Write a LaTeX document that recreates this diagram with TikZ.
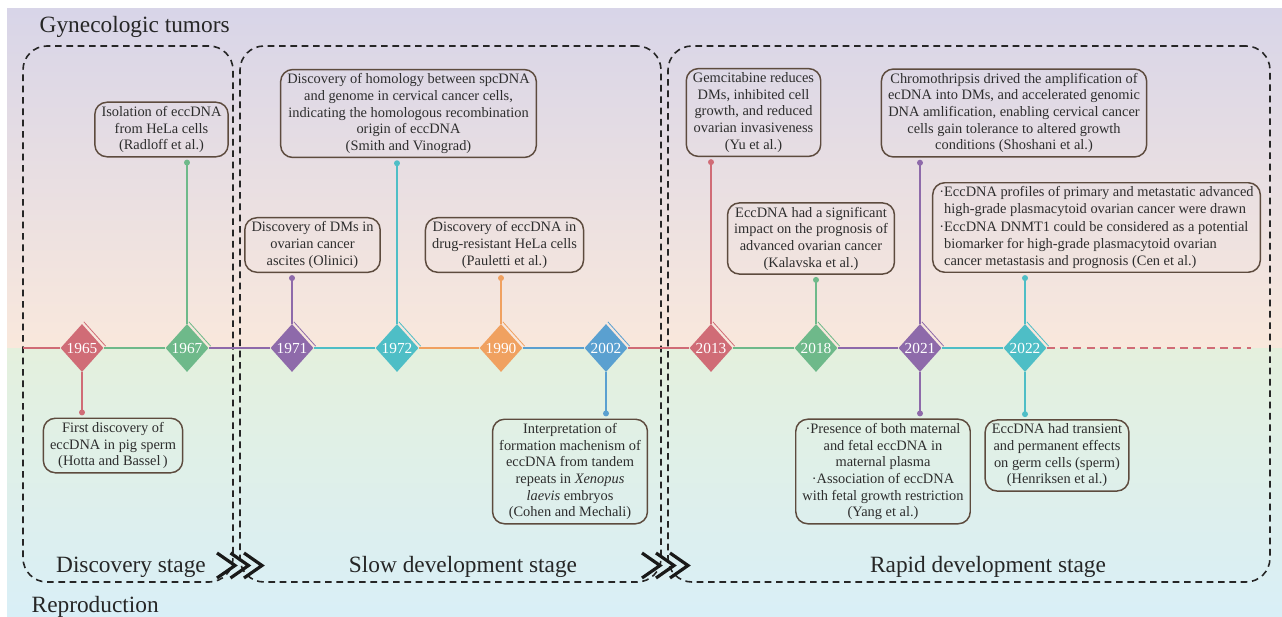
\documentclass[tikz,border=0pt]{standalone}
\usepackage{fontspec}
\setmainfont{Liberation Serif}
\usepackage{tikz}
\usetikzlibrary{arrows.meta,calc,positioning,shapes.geometric}
\definecolor{tlred}{RGB}{208,108,118}
\definecolor{tlgreen}{RGB}{110,185,138}
\definecolor{tlpurple}{RGB}{142,106,170}
\definecolor{tlteal}{RGB}{78,190,198}
\definecolor{tlorange}{RGB}{240,161,96}
\definecolor{tlblue}{RGB}{90,160,208}
\definecolor{boxbrown}{RGB}{93,75,62}
\definecolor{txtgray}{RGB}{45,45,45}
\definecolor{bgtop}{RGB}{216,213,232}
\definecolor{bgmid}{RGB}{249,232,220}
\definecolor{bggreen}{RGB}{228,240,221}
\definecolor{bgblue}{RGB}{217,239,247}

\begin{document}
\begin{tikzpicture}[x=0.75pt, y=-0.75pt, font=\fontsize{10.8}{12.5}\selectfont,
	event/.style={draw=boxbrown, line width=1.1pt, rounded corners=9pt, align=center, text=txtgray, inner xsep=5pt, inner ysep=3pt},
	year/.style={diamond, fill=#1, text=white, inner sep=0pt, minimum width=32.25pt, minimum height=36pt, font=\fontsize{11.5}{13}\selectfont},
	stem/.style={color=#1, line width=1.1pt, {Circle[length=4.4pt]}-, shorten <=1.6pt},
	tl/.style={color=#1, line width=1.6pt},
	stagebox/.style={draw=black!85, line width=1.2pt, dash pattern=on 5pt off 3.5pt, rounded corners=18pt},
	stagelabel/.style={anchor=base, font=\fontsize{17.5}{20}\selectfont, text=black!85},
	chevron/.style={line width=2.4pt, black!90, miter limit=10}]
		\useasboundingbox (0,0) rectangle (1282,617);
		\shade[top color=bgtop, bottom color=bgmid] (7,9) rectangle (1282,348);
		\shade[top color=bggreen, bottom color=bgblue] (7,348) rectangle (1282,617);
		
		\node[anchor=base west, font=\fontsize{17.5}{20}\selectfont, text=black!85] (tumors) at (35,33) {Gynecologic tumors};
		\node[anchor=base west, font=\fontsize{17.5}{20}\selectfont, text=black!85] (repro) at (27,612) {Reproduction};
		
		% stages
		\node[stagebox, minimum width=157.5pt, minimum height=402pt] (discovery) at (128,314) {};
		\node[stagebox, minimum width=315.75pt, minimum height=402pt] (slow) at (450.5,314) {};
		\node[stagebox, minimum width=451.5pt, minimum height=402pt] (rapid) at (969,314) {};
		\node[stagelabel] at (131,572) {Discovery stage};
		\node[stagelabel] at (463,572) {Slow development stage};
		\node[stagelabel] at (988,572) {Rapid development stage};
		\foreach \cx in {217,230.5,244} \draw[chevron] (\cx,553) -- ++(18,12.5) -- ++(-18,12.5);
		\foreach \cx in {642,656,670} \draw[chevron] (\cx,553) -- ++(18,12.5) -- ++(-18,12.5);
		
		% timeline
		\foreach \yr/\xx/\cc in {1965/82/tlred, 1967/187/tlgreen, 1971/292/tlpurple, 1972/397/tlteal, 1990/501/tlorange, 2002/606/tlblue, 2013/711/tlred, 2018/816/tlgreen, 2021/920/tlpurple, 2022/1025/tlteal} {
			\node[year=\cc] (y\yr) at (\xx,348) {\yr};
			\draw[\cc, line width=0.6pt] ([xshift=1.4pt,yshift=1.4pt]y\yr.north) -- ([xshift=1.4pt,yshift=1.4pt]y\yr.east);
		}
		\coordinate (tlstart) at (23,348);
		\coordinate (tlend) at (1251,348);
		\draw[tl=tlred] (tlstart) -- (y1965);
		\foreach \a/\b/\cc in {1965/1967/tlgreen, 1967/1971/tlpurple, 1971/1972/tlteal, 1972/1990/tlorange, 1990/2002/tlblue, 2002/2013/tlred, 2013/2018/tlgreen, 2018/2021/tlpurple, 2021/2022/tlteal}
			\draw[tl=\cc] (y\a) -- (y\b);
		\draw[tl=tlred, dash pattern=on 6pt off 4pt] (y2022) -- (tlend);
		
		% events above
		\node[event] (radloff) at (161.5,129.5) {Isolation of eccDNA\\from HeLa cells\\(Radloff et al.)};
		\node[event] (smith) at (408.5,113.5) {Discovery of homology between spcDNA\\and genome in cervical cancer cells,\\indicating the homologous recombination\\origin of eccDNA\\(Smith and Vinograd)};
		\node[event] (olinici) at (312.5,245) {Discovery of DMs in\\ovarian cancer\\ascites (Olinici)};
		\node[event] (pauletti) at (504.5,245) {Discovery of eccDNA in\\drug-resistant HeLa cells\\(Pauletti et al.)};
		\node[event] (yu) at (753.5,112.5) {Gemcitabine reduces\\DMs, inhibited cell\\growth, and reduced\\ovarian invasiveness\\(Yu et al.)};
		\node[event] (shoshani) at (1014,113) {Chromothripsis drived the amplification of\\ecDNA into DMs, and accelerated genomic\\DNA amlification, enabling cervical cancer\\cells gain tolerance to altered growth\\conditions (Shoshani et al.)};
		\node[event] (kalavska) at (811,238.5) {EccDNA had a significant\\impact on the prognosis of\\advanced ovarian cancer\\(Kalavska et al.)};
		\node[event, align=left, font=\fontsize{10.8}{12.8}\selectfont] (cen) at (1096.5,227.5) {\textperiodcentered EccDNA profiles of primary and metastatic advanced\\\phantom{\textperiodcentered}high-grade plasmacytoid ovarian cancer were drawn\\\textperiodcentered EccDNA DNMT1 could be considered as a potential\\\phantom{\textperiodcentered}biomarker for high-grade plasmacytoid ovarian\\\phantom{\textperiodcentered}cancer metastasis and prognosis (Cen et al.)};
		
		% events below
		\node[event] (hotta) at (113,445.5) {First discovery of\\eccDNA in pig sperm\\(Hotta and Bassel\,)};
		\node[event] (cohen) at (570,471.5) {Interpretation of\\formation machenism of\\eccDNA from tandem\\repeats in \textit{Xenopus}\\\textit{laevis} embryos\\(Cohen and Mechali)};
		\node[event] (yang) at (883,471.5) {\textperiodcentered Presence of both maternal\\and fetal eccDNA in\\maternal plasma\\\textperiodcentered Association of eccDNA\\with fetal growth restriction\\(Yang et al.)};
		\node[event] (henriksen) at (1057,455.5) {EccDNA had transient\\and permanent effects\\on germ cells (sperm)\\(Henriksen et al.)};
		
		% stems
		\draw[stem=tlgreen] (radloff.south -| y1967) -- (y1967.north);
		\draw[stem=tlteal] (smith.south -| y1972) -- (y1972.north);
		\draw[stem=tlpurple] (olinici.south -| y1971) -- (y1971.north);
		\draw[stem=tlorange] (pauletti.south -| y1990) -- (y1990.north);
		\draw[stem=tlred] (yu.south -| y2013) -- (y2013.north);
		\draw[stem=tlpurple] (shoshani.south -| y2021) -- (y2021.north);
		\draw[stem=tlgreen] (kalavska.south -| y2018) -- (y2018.north);
		\draw[stem=tlteal] (cen.south -| y2022) -- (y2022.north);
		\draw[stem=tlred] (hotta.north -| y1965) -- (y1965.south);
		\draw[stem=tlblue] (cohen.north -| y2002) -- (y2002.south);
		\draw[stem=tlpurple] (yang.north -| y2021) -- (y2021.south);
		\draw[stem=tlteal] (henriksen.north -| y2022) -- (y2022.south);
	\end{tikzpicture}
\end{document}
